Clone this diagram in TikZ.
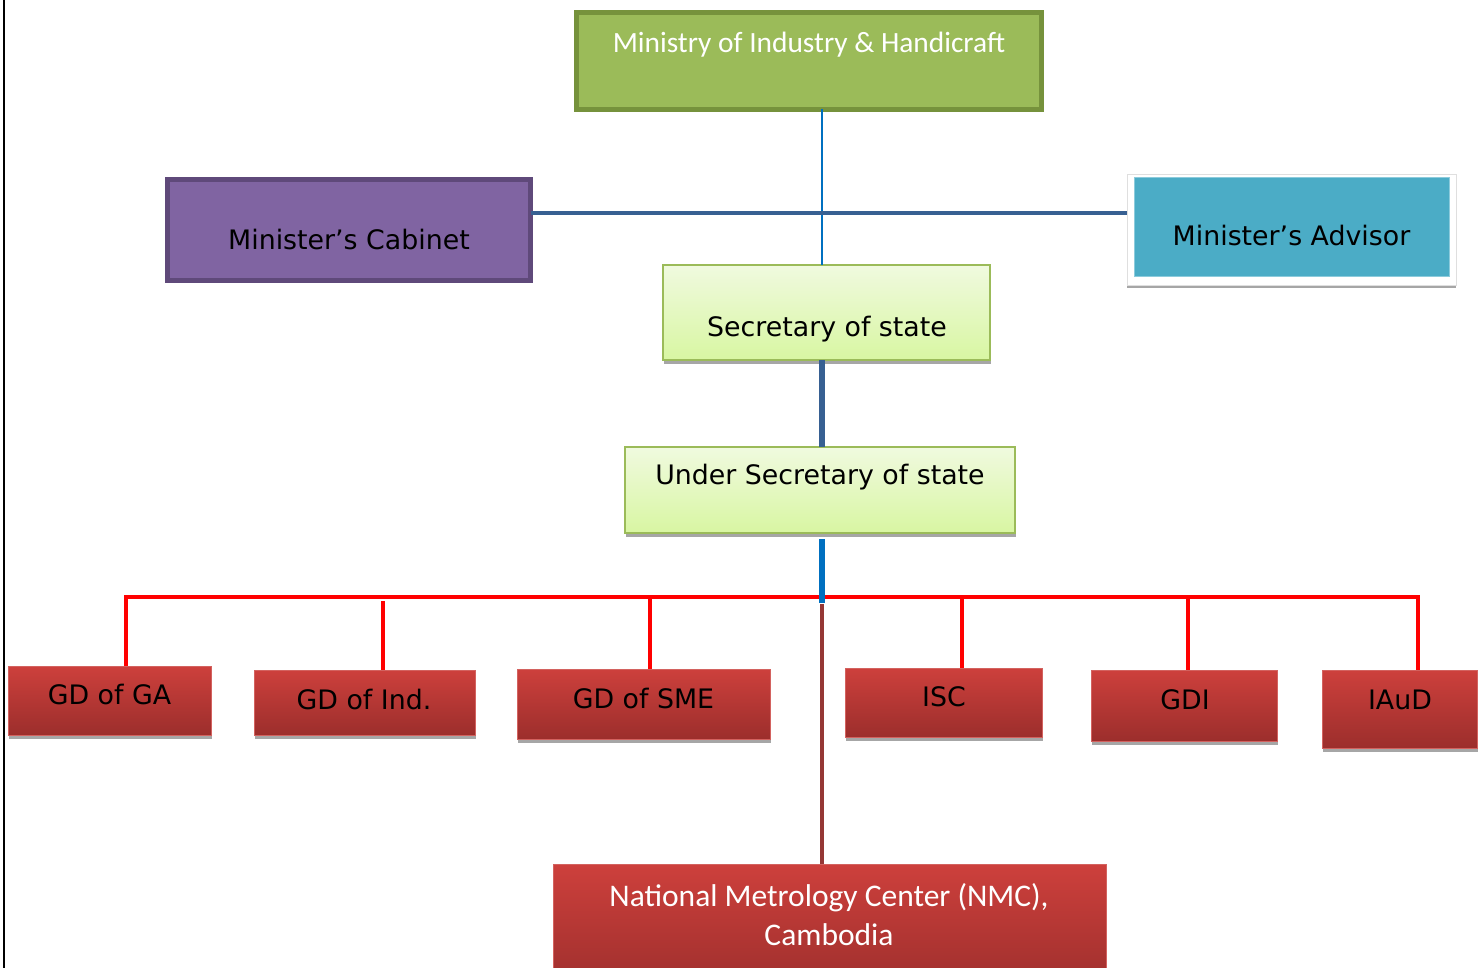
\documentclass[tikz,border=0pt]{standalone}
\usepackage{fontspec}
\setmainfont{DejaVu Sans}
\newfontfamily\calfont{Carlito}
\definecolor{olivebd}{HTML}{76923C}
\definecolor{olivefill}{HTML}{9BBB59}
\definecolor{purpbd}{HTML}{5F497A}
\definecolor{purpfill}{HTML}{8064A2}
\definecolor{cyanfill}{HTML}{4BACC6}
\definecolor{cyanbd}{HTML}{8CCBDC}
\definecolor{greentop}{HTML}{F0FADF}
\definecolor{greenbot}{HTML}{D8F6A2}
\definecolor{greenbd}{HTML}{9BBB59}
\definecolor{redtop}{HTML}{CD403C}
\definecolor{redmid}{HTML}{BC3936}
\definecolor{redbot}{HTML}{9C2E2C}
\definecolor{redbd}{HTML}{D3625F}
\definecolor{shadowgray}{HTML}{A6A6A6}
\definecolor{lineblue}{HTML}{0070C0}
\definecolor{darkblue}{HTML}{376092}
\definecolor{darkred}{HTML}{953735}
\definecolor{busred}{HTML}{FF0000}
\begin{document}
\begin{tikzpicture}[x=1pt,y=-1pt,
  box/.style={rectangle, inner sep=0pt, outer sep=0pt},
  minbox/.style={box, draw=olivebd, fill=olivefill, line width=5pt},
  cabbox/.style={box, draw=purpbd, fill=purpfill, line width=5pt},
  advbox/.style={box, draw=cyanbd, fill=cyanfill, line width=0.8pt},
  frame/.style={box, draw=gray!25, fill=white, line width=0.8pt,
     preaction={fill=shadowgray, transform canvas={yshift=-3pt}}},
  greenbox/.style={box, draw=greenbd, line width=2pt, top color=greentop, bottom color=greenbot,
     preaction={fill=shadowgray, transform canvas={xshift=1pt, yshift=-4pt}}},
  redbox/.style={box, draw=redbd, line width=1pt, top color=redtop, middle color=redmid, bottom color=redbot,
     preaction={fill=shadowgray, transform canvas={xshift=1pt, yshift=-4pt}}},
  nmcbox/.style={box, draw=redbd, line width=1pt, top color=redtop, middle color=redmid, bottom color=redbot},
  vtxt/.style={inner sep=0pt, anchor=base, font=\fontsize{26.8}{32}\selectfont, text=black},
  ctxt/.style={inner sep=0pt, anchor=base, text=white},
  thinblue/.style={draw=lineblue, line width=2.5pt},
  hblue/.style={draw=darkblue, line width=4pt},
  thickblue/.style={draw=darkblue, line width=6pt},
  midblue/.style={draw=lineblue, line width=6pt},
  redline/.style={draw=busred, line width=3.5pt},
  drline/.style={draw=darkred, line width=4pt}
]
\useasboundingbox (0,0) rectangle (1483,968);
\fill[white] (0,0) rectangle (1483,968);
\draw[black, line width=2.5pt] (4,0) -- (4,968);

% boxes
\node[minbox, minimum width=465pt, minimum height=97pt] (min) at (809,61) {};
\node[cabbox, minimum width=363pt, minimum height=101pt] (cab) at (349,230) {};
\node[frame, minimum width=329pt, minimum height=111pt] (advframe) at (1291.5,229.5) {};
\node[advbox, minimum width=315pt, minimum height=99pt] (adv) at (1291.5,226.5) {};
\node[greenbox, minimum width=327pt, minimum height=95pt] (sec) at (826.5,312.5) {};
\node[greenbox, minimum width=390pt, minimum height=86pt] (usec) at (820,490) {};
\node[redbox, minimum width=203pt, minimum height=69pt] (gdga) at (109.5,700.5) {};
\node[redbox, minimum width=221pt, minimum height=65pt] (gdind) at (364.5,702.5) {};
\node[redbox, minimum width=253pt, minimum height=70pt] (gdsme) at (643.5,704) {};
\node[redbox, minimum width=197pt, minimum height=69pt] (isc) at (943.5,702.5) {};
\node[redbox, minimum width=186pt, minimum height=71pt] (gdi) at (1184,705.5) {};
\node[redbox, minimum width=155pt, minimum height=78pt] (iaud) at (1399.5,709) {};
\node[nmcbox, minimum width=553pt, minimum height=130pt] (nmc) at (829.5,929) {};

% texts
\node[ctxt, font=\calfont\fontsize{29.4}{35}\selectfont] (mint) at (809,53) {Ministry of Industry \& Handicraft};
\node[vtxt] (cabt) at (349,250) {Minister’s Cabinet};
\node[vtxt] (advt) at (1291.5,246) {Minister’s Advisor};
\node[vtxt] (sect) at (827,336) {Secretary of state};
\node[vtxt] (usect) at (820,484) {Under Secretary of state};
\node[vtxt] (gdgat) at (109.5,704) {GD of GA};
\node[vtxt] (gdindt) at (364,709) {GD of Ind.};
\node[vtxt] (gdsmet) at (643.5,708) {GD of SME};
\node[vtxt] (isct) at (944,706) {ISC};
\node[vtxt] (gdit) at (1185,709) {GDI};
\node[vtxt] (iaudt) at (1400,709) {IAuD};
\node[ctxt, font=\calfont\fontsize{31.5}{38}\selectfont] (nmct1) at (829,906) {National Metrology Center (NMC),};
\node[ctxt, font=\calfont\fontsize{31.5}{38}\selectfont] (nmct2) at (829,945) {Cambodia};

% connector coordinates
\coordinate (trunk) at (822,0);
\coordinate (hy) at (0,213);
\coordinate (b1) at (822,539);
\coordinate (b2) at (822,603);
\coordinate (r0) at (822,604);
\coordinate (d1) at (126,597);
\coordinate (d2) at (383,601);
\coordinate (d3) at (650,597);
\coordinate (d4) at (962,597);
\coordinate (d5) at (1188,597);
\coordinate (d6) at (1418,597);

% connectors
\draw[thinblue] (trunk |- min.south) -- (trunk |- sec.north);
\draw[hblue] (cab.east |- hy) -- (advframe.west |- hy);
\draw[thickblue] (trunk |- sec.south) -- (trunk |- usec.north);
\draw[redline] (d1 |- gdga.north) -- (d1) -- (d6) -- (d6 |- iaud.north);
\draw[redline] (d2) -- (d2 |- gdind.north);
\draw[redline] (d3) -- (d3 |- gdsme.north);
\draw[redline] (d4) -- (d4 |- isc.north);
\draw[redline] (d5) -- (d5 |- gdi.north);
\draw[midblue] (b1) -- (b2);
\draw[drline] (r0) -- (r0 |- nmc.north);
\end{tikzpicture}
\end{document}
